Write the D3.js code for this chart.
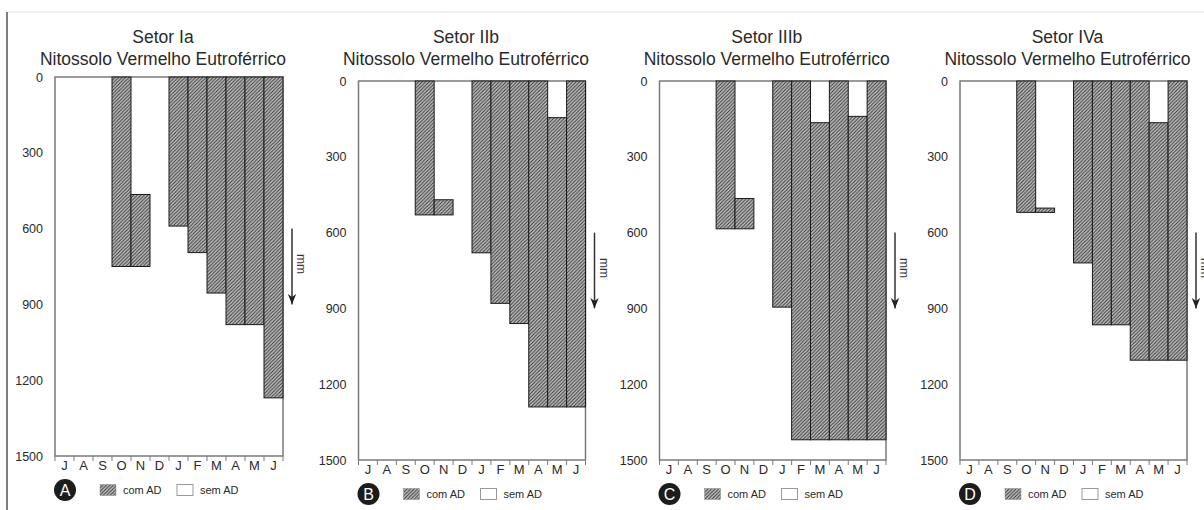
<!DOCTYPE html>
<html>
<head>
<meta charset="utf-8">
<script src="https://cdn.jsdelivr.net/npm/d3@7"></script>
<style>
  body { margin: 0; background: #fff; }
  svg { display: block; font-family: "Liberation Sans", Arial, sans-serif; }
</style>
</head>
<body>
<svg id="chart" width="1204" height="510"></svg>
<script>
// Months of the hydrological year (July to June)
const months = ["J", "A", "S", "O", "N", "D", "J", "F", "M", "A", "M", "J"];
const yTicks = [0, 300, 600, 900, 1200, 1500];
const sectorTitles = ["Setor Ia", "Setor IIb", "Setor IIIb", "Setor IVa"];
const soilType = "Nitossolo Vermelho Eutroférrico";
const panelLetters = ["A", "B", "C", "D"];
const legendLabels = ["com AD", "sem AD"];

// Start and end (mm) of the "com AD" interval per month; null = no bar
const topIa  = [null, null, null, 0, 465, null, 0, 0, 0, 0, 0, 0];
const baseIa = [null, null, null, 750, 750, null, 590, 695, 855, 980, 980, 1270];

const topIIb  = [null, null, null, 0, 470, null, 0, 0, 0, 0, 145, 0];
const baseIIb = [null, null, null, 530, 530, null, 680, 880, 960, 1290, 1290, 1290];

const topIIIb  = [null, null, null, 0, 465, null, 0, 0, 165, 0, 140, 0];
const baseIIIb = [null, null, null, 585, 585, null, 895, 1420, 1420, 1420, 1420, 1420];

const topIVa  = [null, null, null, 0, 503, null, 0, 0, 0, 0, 165, 0];
const baseIVa = [null, null, null, 520, 520, null, 720, 965, 965, 1105, 1105, 1105];

const sectorTops = [topIa, topIIb, topIIIb, topIVa];
const sectorBases = [baseIa, baseIIb, baseIIIb, baseIVa];

const svg = d3.select("#chart");
const FONT = "Liberation Sans, Arial, sans-serif";

// hatch fill for the "com AD" bars
const defs = svg.append("defs");
const hatch = defs.append("pattern")
  .attr("id", "hatch")
  .attr("patternUnits", "userSpaceOnUse")
  .attr("width", 3.5).attr("height", 3.5);
hatch.append("rect").attr("width", 3.5).attr("height", 3.5).attr("fill", "#bdbdbd");
hatch.append("path")
  .attr("d", "M-1,1 l2,-2 M0,3.5 l3.5,-3.5 M2.5,4.5 l2,-2")
  .attr("stroke", "#333").attr("stroke-width", 0.9);

defs.append("marker")
  .attr("id", "arrowhead")
  .attr("viewBox", "0 0 10 10")
  .attr("refX", 10).attr("refY", 5)
  .attr("markerWidth", 7).attr("markerHeight", 7)
  .attr("orient", "auto")
  .append("path")
  .attr("d", "M0,1 L10,5 L0,9 L3,5 Z")
  .attr("fill", "#222");

// figure border
svg.append("line").attr("x1", 7).attr("x2", 1204).attr("y1", 12).attr("y2", 12)
  .attr("stroke", "#e2e2e2").attr("stroke-width", 1);
svg.append("line").attr("x1", 7).attr("x2", 7).attr("y1", 12).attr("y2", 510)
  .attr("stroke", "#555").attr("stroke-width", 1.5);

const layout = [
  { left: 55, right: 283, top: 77, bottom: 456 },
  { left: 358.5, right: 585.5, top: 81, bottom: 460 },
  { left: 659.5, right: 886, top: 81, bottom: 460 },
  { left: 960, right: 1187, top: 81, bottom: 460 }
];

layout.forEach((L, p) => {
  const g = svg.append("g");
  const x = d3.scaleBand().domain(d3.range(months.length)).range([L.left, L.right]).padding(0);
  const y = d3.scaleLinear().domain([0, 1500]).range([L.top, L.bottom]);
  const cx = (L.left + L.right) / 2 - 6;

  // titles
  g.append("text").attr("x", cx).attr("y", 43).attr("text-anchor", "middle")
    .attr("font-size", 17.5).attr("fill", "#2a2a2a").text(sectorTitles[p]);
  g.append("text").attr("x", cx).attr("y", 64.5).attr("text-anchor", "middle")
    .attr("font-size", 17.5).attr("fill", "#2a2a2a").text(soilType);

  // plot frame
  g.append("rect")
    .attr("x", L.left).attr("y", L.top)
    .attr("width", L.right - L.left).attr("height", L.bottom - L.top)
    .attr("fill", "none").attr("stroke", "#7a7a7a").attr("stroke-width", 1.5);

  // bars
  const tops = sectorTops[p], bases = sectorBases[p];
  const bars = d3.range(months.length).filter(i => bases[i] !== null)
    .map(i => ({ i, t: tops[i], b: bases[i] }));
  g.selectAll("rect.bar").data(bars).join("rect")
    .attr("class", "bar")
    .attr("x", d => x(d.i))
    .attr("y", d => y(d.t))
    .attr("width", x.bandwidth())
    .attr("height", d => y(d.b) - y(d.t))
    .attr("fill", "url(#hatch)")
    .attr("stroke", "#1a1a1a").attr("stroke-width", 1);

  // y axis labels
  const yAxis = g.append("g").attr("transform", `translate(${L.left},0)`)
    .call(d3.axisLeft(y).tickValues(yTicks).tickSize(0).tickPadding(12).tickFormat(d3.format("d")));
  yAxis.select(".domain").remove();
  yAxis.selectAll("text").attr("font-size", 12.5).attr("fill", "#2a2a2a").attr("font-family", FONT);

  // x axis labels and boundary ticks
  const xAxis = g.append("g").attr("transform", `translate(0,${L.bottom})`)
    .call(d3.axisBottom(x).tickSize(0).tickPadding(5).tickFormat(i => months[i]));
  xAxis.select(".domain").remove();
  xAxis.selectAll("text").attr("font-size", 13).attr("fill", "#2a2a2a").attr("font-family", FONT);
  g.selectAll("line.bt").data(d3.range(months.length + 1)).join("line")
    .attr("class", "bt")
    .attr("x1", k => L.left + k * x.step()).attr("x2", k => L.left + k * x.step())
    .attr("y1", L.bottom).attr("y2", L.bottom + 5)
    .attr("stroke", "#7a7a7a").attr("stroke-width", 1);

  // depth arrow
  g.append("line")
    .attr("x1", L.right + 9).attr("x2", L.right + 9)
    .attr("y1", y(600)).attr("y2", y(900))
    .attr("stroke", "#333").attr("stroke-width", 1.5)
    .attr("marker-end", "url(#arrowhead)");
  g.append("text")
    .attr("transform", `translate(${L.right + 14},${y(740)}) rotate(90)`)
    .attr("text-anchor", "middle").attr("font-size", 12).attr("fill", "#333").text("mm");

  // legend
  const ly = L.bottom + 34;
  g.append("circle").attr("cx", L.left + 10).attr("cy", ly).attr("r", 11).attr("fill", "#1c1c1c");
  g.append("text").attr("x", L.left + 10).attr("y", ly + 6).attr("text-anchor", "middle")
    .attr("font-size", 16).attr("fill", "#fff").text(panelLetters[p]);
  g.append("rect").attr("x", L.left + 45).attr("y", ly - 5.5).attr("width", 16).attr("height", 11)
    .attr("fill", "url(#hatch)").attr("stroke", "#888").attr("stroke-width", 0.5);
  g.append("text").attr("x", L.left + 68).attr("y", ly + 4).attr("font-size", 11)
    .attr("fill", "#2a2a2a").text(legendLabels[0]);
  g.append("rect").attr("x", L.left + 122).attr("y", ly - 5.5).attr("width", 16).attr("height", 11)
    .attr("fill", "#fff").attr("stroke", "#999").attr("stroke-width", 1);
  g.append("text").attr("x", L.left + 145).attr("y", ly + 4).attr("font-size", 11)
    .attr("fill", "#2a2a2a").text(legendLabels[1]);
});
</script>
</body>
</html>
